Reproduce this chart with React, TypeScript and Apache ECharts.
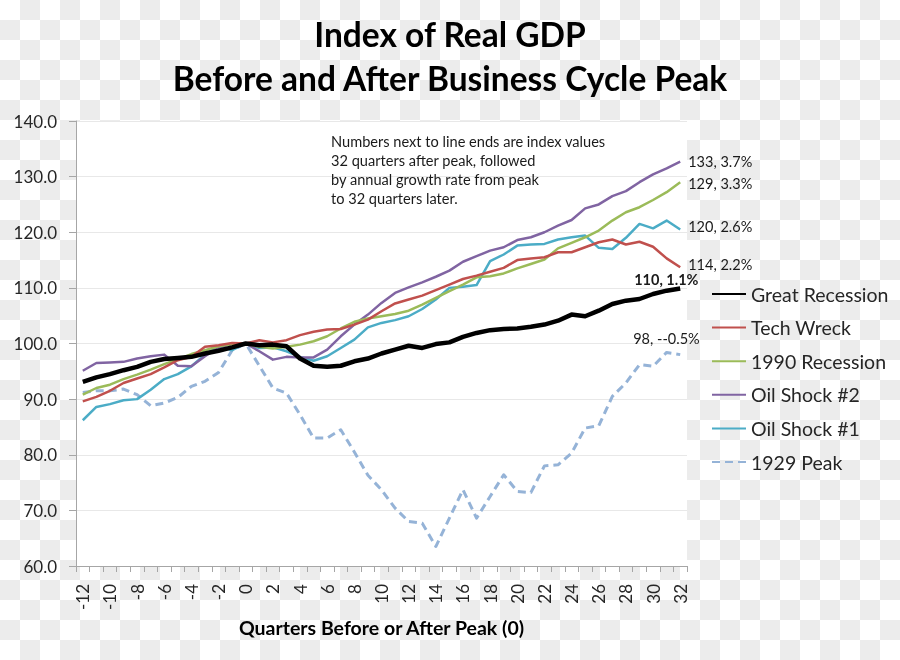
import { useEffect, useRef } from "react";
import * as echarts from "echarts";

const quarters = ["-12","-11","-10","-9","-8","-7","-6","-5","-4","-3","-2","-1","0","1","2","3","4","5","6","7","8","9","10","11","12","13","14","15","16","17","18","19","20","21","22","23","24","25","26","27","28","29","30","31","32"];

const greatRecession = [93.1, 93.9, 94.5, 95.2, 95.8, 96.7, 97.2, 97.4, 97.6, 98.2, 98.7, 99.3, 100, 99.7, 99.8, 99.5, 97.3, 96.0, 95.8, 96.0, 96.8, 97.3, 98.2, 98.9, 99.6, 99.2, 99.9, 100.2, 101.2, 101.9, 102.4, 102.6, 102.7, 103.0, 103.4, 104.1, 105.2, 104.9, 105.9, 107.1, 107.7, 108.0, 108.9, 109.5, 109.9];
const techWreck = [89.6, 90.4, 91.5, 92.9, 93.7, 94.5, 95.7, 97.0, 97.6, 99.4, 99.7, 100.1, 100, 100.6, 100.2, 100.6, 101.5, 102.1, 102.5, 102.6, 103.4, 104.3, 105.8, 107.2, 107.9, 108.6, 109.6, 110.6, 111.6, 112.2, 112.9, 113.6, 115.0, 115.3, 115.5, 116.4, 116.4, 117.3, 118.2, 118.7, 117.8, 118.3, 117.4, 115.3, 113.7];
const recession1990 = [90.8, 92.0, 92.6, 93.6, 94.4, 95.3, 96.3, 97.2, 98.1, 98.8, 99.5, 99.9, 100, 99.4, 99.1, 99.4, 99.8, 100.4, 101.3, 102.7, 103.9, 104.5, 104.9, 105.3, 105.9, 107.0, 108.2, 109.4, 110.6, 111.9, 112.1, 112.6, 113.5, 114.3, 115.1, 117.1, 118.1, 119.1, 120.3, 122.1, 123.6, 124.5, 125.8, 127.2, 129.0];
const oilShock2 = [95.1, 96.5, 96.6, 96.7, 97.3, 97.7, 98.0, 96.0, 95.9, 97.7, 99.3, 99.9, 100, 98.6, 97.1, 97.6, 97.5, 97.5, 98.9, 101.3, 103.4, 105.2, 107.3, 109.1, 110.1, 111.0, 112.0, 113.1, 114.7, 115.7, 116.7, 117.3, 118.6, 119.1, 120.0, 121.2, 122.2, 124.3, 125.0, 126.5, 127.4, 129.0, 130.4, 131.5, 132.7];
const oilShock1 = [86.2, 88.6, 89.1, 89.8, 90.0, 91.7, 93.6, 94.5, 95.9, 98.0, 99.5, 98.8, 100, 99.2, 99.3, 98.6, 97.6, 96.9, 97.7, 99.2, 100.7, 102.9, 103.7, 104.2, 104.9, 106.2, 107.9, 110.0, 110.2, 110.5, 114.8, 116.0, 117.6, 117.8, 117.9, 118.7, 119.1, 119.4, 117.2, 117.0, 119.0, 121.5, 120.7, 122.1, 120.5];
const peak1929 = [91.2, 91.5, 91.5, 91.8, 90.8, 88.8, 89.3, 90.3, 92.3, 93.2, 94.8, 98.8, 100, 96.0, 92.0, 91.1, 87.2, 83.0, 83.0, 84.5, 80.5, 76.3, 73.7, 70.4, 68.0, 67.7, 63.5, 68.6, 73.7, 68.6, 72.5, 76.4, 73.4, 73.2, 78.0, 78.2, 80.3, 84.8, 85.2, 90.5, 92.9, 96.2, 95.9, 98.4, 98.0];

const seriesNames = ["Great Recession", "Tech Wreck", "1990 Recession", "Oil Shock #2", "Oil Shock #1", "1929 Peak"];
const endTexts = ["110, 1.1%", "114, 2.2%", "129, 3.3%", "133, 3.7%", "120, 2.6%", "98, --0.5%"];
const yTicks = [60, 140, 10];

const FONT = "Lato, 'Open Sans', sans-serif";

export default function App() {
  const ref = useRef<HTMLDivElement>(null);
  useEffect(() => {
    if (!ref.current) return;
    const chart = echarts.init(ref.current, null, { renderer: "svg" });
    const mk = (name: string, data: number[], color: string, width: number, endText: string, lbl: any, dashed = false) => ({
      type: "line",
      name,
      data,
      symbol: "none",
      showSymbol: false,
      silent: true,
      lineStyle: { color, width, type: dashed ? [8, 5] : "solid", cap: "butt", join: "round" },
      itemStyle: { color },
      emphasis: { disabled: true },
      endLabel: {
        show: true,
        formatter: endText,
        fontFamily: FONT,
        fontSize: 14.5,
        color: "#1a1a1a",
        distance: 8,
        ...lbl,
      },
    });
    chart.setOption({
      animation: false,
      title: {
        text: "Index of Real GDP\nBefore and After Business Cycle Peak",
        left: "center",
        top: 12,
        padding: 0,
        textStyle: { fontFamily: FONT, fontWeight: "bold", fontSize: 33.5, lineHeight: 44, color: "#000" },
      },
      grid: { left: 76, right: 213, top: 121, bottom: 94, show: true, backgroundColor: "#ffffff", borderWidth: 0 },
      legend: {
        orient: "vertical",
        left: 711,
        top: 284,
        padding: 0,
        itemWidth: 34,
        itemHeight: 20,
        itemGap: 13.6,
        data: seriesNames,
        itemStyle: { color: "rgba(0,0,0,0)", borderWidth: 0, opacity: 0 },
        textStyle: { fontFamily: FONT, fontSize: 19.5, lineHeight: 20, color: "#262626" },
        selectedMode: false,
      },
      xAxis: {
        type: "category",
        data: quarters,
        boundaryGap: true,
        axisLine: { lineStyle: { color: "#a6a6a6", width: 1 } },
        axisTick: { show: true, interval: 0, length: 6, lineStyle: { color: "#a6a6a6" } },
        axisLabel: { interval: 1, rotate: 90, fontSize: 17, margin: 18, fontFamily: FONT, color: "#262626" },
        splitLine: { show: false },
        name: "Quarters Before or After Peak (0)",
        nameLocation: "middle",
        nameGap: 50,
        nameTextStyle: { fontSize: 19.5, fontWeight: "bold", fontFamily: FONT, color: "#000" },
      },
      yAxis: {
        type: "value",
        min: yTicks[0],
        max: yTicks[1],
        interval: yTicks[2],
        axisLine: { show: true, lineStyle: { color: "#a6a6a6", width: 1 } },
        axisTick: { show: true, length: 7, lineStyle: { color: "#a6a6a6" } },
        axisLabel: { formatter: (v: number) => v.toFixed(1), fontSize: 17, margin: 19, fontFamily: FONT, color: "#262626" },
        splitLine: { lineStyle: { color: "#e8e8e8", width: 1 } },
      },
      graphic: [
        {
          type: "text",
          left: 331,
          top: 132,
          style: {
            text: "Numbers next to line ends are index values\n32 quarters after peak, followed\nby annual growth rate from peak\nto 32 quarters later.",
            font: "14.6px " + FONT,
            lineHeight: 19,
            fill: "#1a1a1a",
          },
          z: 10,
        },
      ],
      series: [
        mk(seriesNames[5], peak1929, "#95b3d7", 3, endTexts[5], { offset: [-55, -16] }, true),
        mk(seriesNames[4], oilShock1, "#4bacc6", 2.5, endTexts[4], { offset: [0, -3] }),
        mk(seriesNames[3], oilShock2, "#8064a2", 2.5, endTexts[3], { offset: [0, 0] }),
        mk(seriesNames[2], recession1990, "#9bbb59", 2.5, endTexts[2], { offset: [0, 1] }),
        mk(seriesNames[1], techWreck, "#c0504d", 2.5, endTexts[1], { offset: [0, -3] }),
        mk(seriesNames[0], greatRecession, "#000000", 4.5, endTexts[0], { offset: [-54, -9], fontWeight: "bold" }),
      ],
    });
    return () => chart.dispose();
  }, []);
  return (
    <div
      ref={ref}
      style={{
        position: "fixed",
        left: 0,
        top: 0,
        width: 900,
        height: 660,
        background: "repeating-conic-gradient(#ececec 0 25%, #ffffff 0 50%) 0 0 / 40px 40px",
      }}
    />
  );
}
